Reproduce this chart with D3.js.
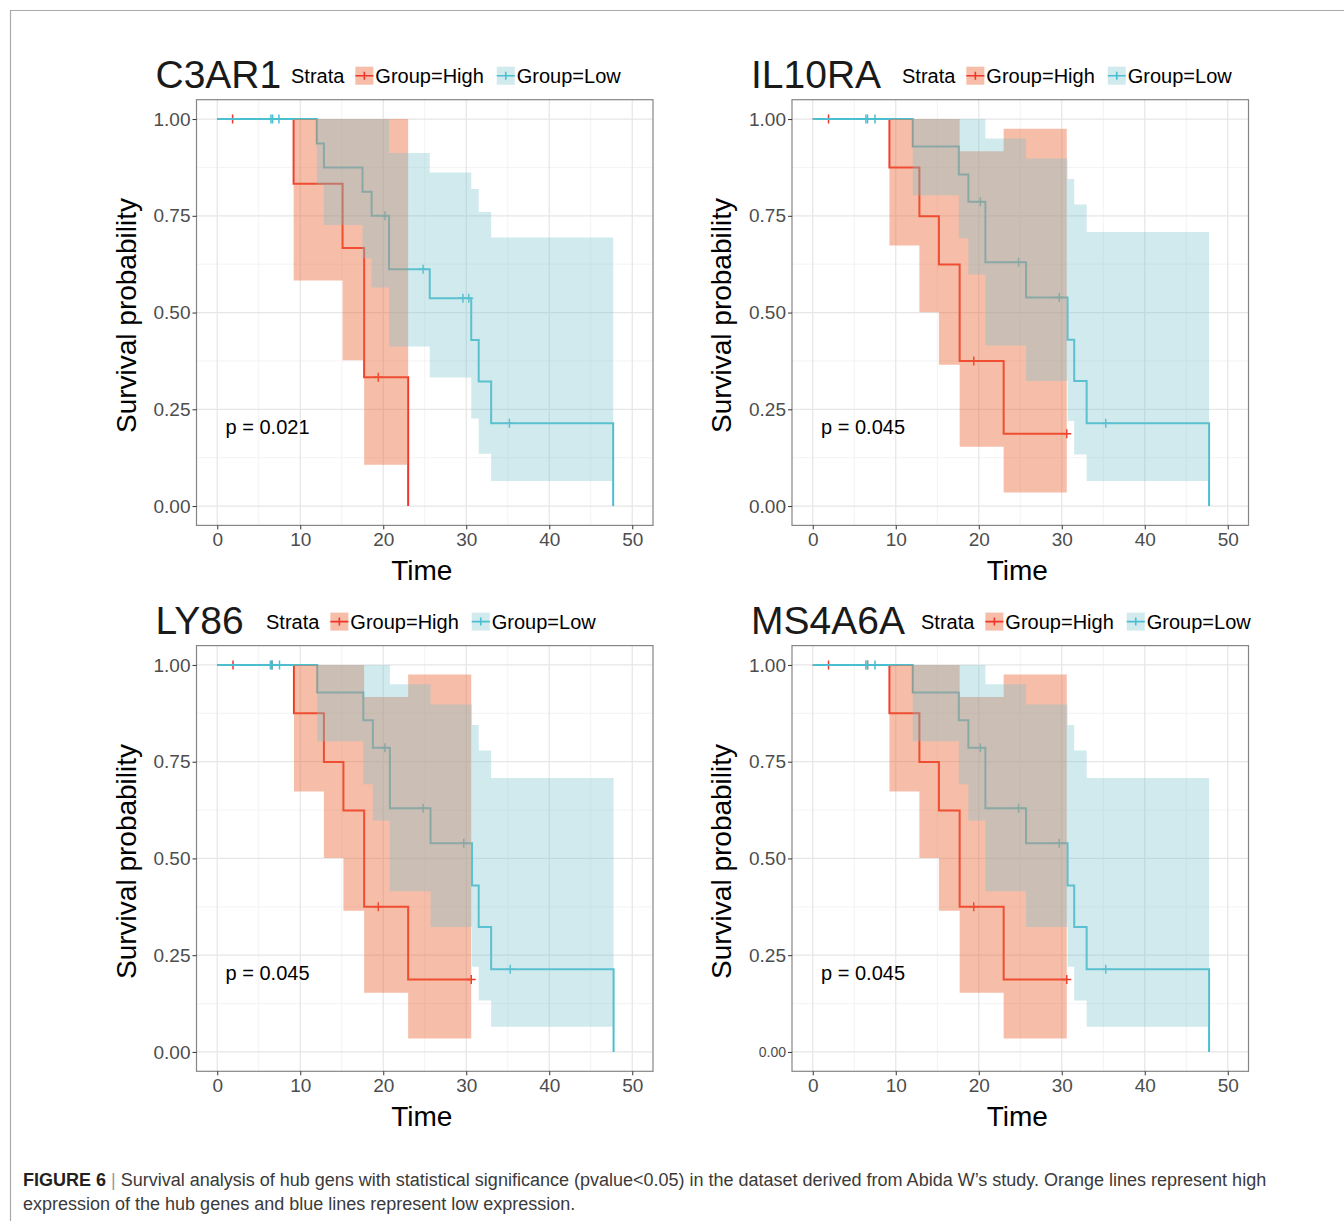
<!DOCTYPE html>
<meta charset="utf-8">
<title>Survival analysis of hub genes</title>
<style>
body { margin: 0; background: #fff; }
svg { display: block; font-family: "Liberation Sans", Arial, Helvetica, sans-serif; }
</style>
<body>
<svg></svg>
<script src="https://d3js.org/d3.v7.min.js"></script>
<script>

var width = 1344,
    height = 1221;

var genes = ["C3AR1", "IL10RA", "LY86", "MS4A6A"],
    pLabels = ["p = 0.021", "p = 0.045", "p = 0.045", "p = 0.045"],
    xTicks = [0, 10, 20, 30, 40, 50],
    yTicks = [0, 0.25, 0.5, 0.75, 1],
    legendLabels = ["Group=High", "Group=Low"];

// C3AR1
var c3HighTime = [0, 9.2, 15.1, 17.7, 23.0],
    c3HighSurv = [1, 0.833, 0.667, 0.333, 0],
    c3HighCens = [1.85, 19.4],
    c3HighCiTime = [9.2, 15.1, 17.7, 23.0],
    c3HighCiLow = [0.583, 0.377, 0.107, 0.107],
    c3HighCiUp = [1, 1, 1, 1];
var c3LowTime = [0, 12.0, 12.85, 17.5, 18.6, 20.7, 25.6, 30.6, 31.5, 33.0, 47.7],
    c3LowSurv = [1, 0.937, 0.875, 0.812, 0.75, 0.612, 0.537, 0.429, 0.322, 0.214, 0],
    c3LowCens = [6.47, 6.67, 7.43, 20.2, 24.8, 29.6, 30.3, 35.2],
    c3LowCiTime = [12.0, 12.85, 17.5, 18.6, 20.7, 25.6, 30.6, 31.5, 33.0, 47.7],
    c3LowCiLow = [0.83, 0.726, 0.64, 0.565, 0.412, 0.332, 0.226, 0.135, 0.065, 0.065],
    c3LowCiUp = [1, 1, 1, 1, 0.912, 0.862, 0.819, 0.76, 0.694, 0.694];

// IL10RA (LY86 and MS4A6A give the same curves)
var ilHighTime = [0, 9.24, 12.85, 15.2, 17.7, 23.0, 30.6],
    ilHighSurv = [1, 0.875, 0.749, 0.624, 0.375, 0.187, 0.187],
    ilHighCens = [1.9, 19.4, 30.6],
    ilHighCiTime = [9.24, 12.85, 15.2, 17.7, 23.0, 30.6],
    ilHighCiLow = [0.673, 0.501, 0.365, 0.153, 0.035, 0.035],
    ilHighCiUp = [1, 1, 1, 0.917, 0.975, 0.975];
var ilLowTime = [0, 12.05, 17.6, 18.75, 20.8, 25.7, 30.7, 31.5, 33.0, 47.75],
    ilLowSurv = [1, 0.929, 0.857, 0.786, 0.63, 0.539, 0.43, 0.323, 0.214, 0],
    ilLowCens = [6.4, 6.6, 7.5, 20.2, 24.8, 29.7, 35.3],
    ilLowCiTime = [12.05, 17.6, 18.75, 20.8, 25.7, 30.7, 31.5, 33.0, 47.75],
    ilLowCiLow = [0.803, 0.692, 0.598, 0.415, 0.323, 0.22, 0.133, 0.065, 0.065],
    ilLowCiUp = [1, 1, 1, 0.95, 0.898, 0.845, 0.779, 0.708, 0.708];

var lyHighCens = [1.9, 6.6, 19.4, 30.6],
    lyLowCens = [6.4, 6.6, 7.5, 20.2, 24.8, 29.7, 35.3];

function group(time, surv, cens, ciTime, ciLow, ciUp) {
    return {time: time, surv: surv, cens: cens, ciTime: ciTime, ciLow: ciLow, ciUp: ciUp};
}

var panels = [
    {high: group(c3HighTime, c3HighSurv, c3HighCens, c3HighCiTime, c3HighCiLow, c3HighCiUp),
     low: group(c3LowTime, c3LowSurv, c3LowCens, c3LowCiTime, c3LowCiLow, c3LowCiUp)},
    {high: group(ilHighTime, ilHighSurv, ilHighCens, ilHighCiTime, ilHighCiLow, ilHighCiUp),
     low: group(ilLowTime, ilLowSurv, ilLowCens, ilLowCiTime, ilLowCiLow, ilLowCiUp)},
    {high: group(ilHighTime, ilHighSurv, lyHighCens, ilHighCiTime, ilHighCiLow, ilHighCiUp),
     low: group(ilLowTime, ilLowSurv, lyLowCens, ilLowCiTime, ilLowCiLow, ilLowCiUp)},
    {high: group(ilHighTime, ilHighSurv, lyHighCens, ilHighCiTime, ilHighCiLow, ilHighCiUp),
     low: group(ilLowTime, ilLowSurv, lyLowCens, ilLowCiTime, ilLowCiLow, ilLowCiUp)}
];

// layout
var pw = 456.5, ph = 425.7,
    pos = [[196.5, 99.7], [792, 99.7], [196.5, 645.6], [792, 645.6]],
    legendX = [291, 902, 266, 921];

var colors = {
    high: {line: "#f2352a", fill: "rgb(235,108,62)", op: 0.45},
    low: {line: "#4bbfd0", fill: "rgb(124,195,206)", op: 0.35}
};

var svg = d3.select("svg").attr("width", width).attr("height", height);
svg.append("rect").attr("width", width).attr("height", height).attr("fill", "#fff");

// page frame
svg.append("path")
    .attr("d", "M10.5," + height + "V10.5H" + width)
    .attr("fill", "none").attr("stroke", "#aaa").attr("stroke-width", 1.2);

var x = d3.scaleLinear().domain([-2.5, 52.5]).range([0, pw]),
    y = d3.scaleLinear().domain([-0.05, 1.05]).range([ph, 0]);

var stepLine = d3.line().curve(d3.curveStepAfter).x(d => x(d[0])).y(d => y(d[1]));
var stepArea = d3.area().curve(d3.curveStepAfter)
    .x(d => x(d[0])).y0(d => y(d[1])).y1(d => y(d[2]));

function survAt(g, t) {
    var i = d3.bisectRight(g.time, t) - 1;
    return g.surv[Math.max(0, i)];
}

function plus(sel, cx, cy, color) {
    sel.append("path")
        .attr("d", "M" + (cx - 4.5) + "," + cy + "H" + (cx + 4.5) + "M" + cx + "," + (cy - 4.5) + "V" + (cy + 4.5))
        .attr("stroke", color).attr("stroke-width", 1.5).attr("fill", "none");
}

panels.forEach(function(p, k) {
    var g = svg.append("g").attr("transform", "translate(" + pos[k][0] + "," + pos[k][1] + ")");

    // grid
    var minorX = d3.range(5, 50, 10), minorY = [0.125, 0.375, 0.625, 0.875];
    g.append("g").selectAll("line").data(minorX).join("line")
        .attr("x1", d => x(d)).attr("x2", d => x(d)).attr("y1", 0).attr("y2", ph)
        .attr("stroke", "#f0f0f0").attr("stroke-width", 0.8);
    g.append("g").selectAll("line").data(minorY).join("line")
        .attr("y1", d => y(d)).attr("y2", d => y(d)).attr("x1", 0).attr("x2", pw)
        .attr("stroke", "#f0f0f0").attr("stroke-width", 0.8);
    g.append("g").selectAll("line").data(xTicks).join("line")
        .attr("x1", d => x(d)).attr("x2", d => x(d)).attr("y1", 0).attr("y2", ph)
        .attr("stroke", "#e6e6e6").attr("stroke-width", 1.2);
    g.append("g").selectAll("line").data(yTicks).join("line")
        .attr("y1", d => y(d)).attr("y2", d => y(d)).attr("x1", 0).attr("x2", pw)
        .attr("stroke", "#e6e6e6").attr("stroke-width", 1.2);

    // curves
    ["high", "low"].forEach(function(key) {
        var s = p[key], c = colors[key];
        g.append("path")
            .datum(s.time.map((t, i) => [t, s.surv[i]]))
            .attr("d", stepLine)
            .attr("fill", "none").attr("stroke", c.line).attr("stroke-width", 2);
        s.cens.forEach(function(t) {
            plus(g, x(t), y(survAt(s, t)), c.line);
        });
    });

    // confidence bands, drawn over the lines
    ["high", "low"].forEach(function(key) {
        var s = p[key], c = colors[key];
        g.append("path")
            .datum(s.ciTime.map((t, i) => [t, s.ciLow[i], s.ciUp[i]]))
            .attr("d", stepArea)
            .attr("fill", c.fill).attr("fill-opacity", c.op);
    });

    // border
    g.append("rect").attr("width", pw).attr("height", ph)
        .attr("fill", "none").attr("stroke", "#858585").attr("stroke-width", 1.2);

    // axes
    var ya = g.append("g").call(d3.axisLeft(y).tickValues(yTicks).tickFormat(d3.format(".2f")).tickSize(4).tickPadding(2));
    var xa = g.append("g").attr("transform", "translate(0," + ph + ")")
        .call(d3.axisBottom(x).tickValues(xTicks).tickSize(4).tickPadding(3));
    [ya, xa].forEach(function(a) {
        a.select(".domain").remove();
        a.selectAll(".tick line").attr("stroke", "#333");
        a.selectAll(".tick text").attr("fill", "#4d4d4d")
            .style("font-size", "19px").style("font-family", "inherit");
    });
    if (k == 3) {
        ya.selectAll(".tick text").filter(d => d == 0).style("font-size", "14px");
    }

    g.append("text")
        .attr("transform", "translate(-61," + (ph / 2 + 3) + ") rotate(-90)")
        .attr("text-anchor", "middle").style("font-size", "28px").attr("fill", "#000")
        .text("Survival probability");
    g.append("text")
        .attr("x", pw / 2 - 3).attr("y", ph + 55)
        .attr("text-anchor", "middle").style("font-size", "28px").attr("fill", "#000")
        .text("Time");

    g.append("text")
        .attr("x", x(1)).attr("y", y(0.186))
        .style("font-size", "20px").attr("fill", "#000")
        .text(pLabels[k]);

    // title and legend
    g.append("text")
        .attr("x", -41).attr("y", -12)
        .style("font-size", "39px").attr("fill", "#1a1a1a")
        .text(genes[k]);

    var lg = g.append("g").attr("transform", "translate(" + (legendX[k] - pos[k][0]) + ",-17)");
    var strata = lg.append("text").style("font-size", "20px").attr("fill", "#000").text("Strata");
    var cx = strata.node().getComputedTextLength() + 11;
    ["high", "low"].forEach(function(key, i) {
        var c = colors[key];
        var item = lg.append("g").attr("transform", "translate(" + cx + ",0)");
        item.append("rect").attr("x", 0).attr("y", -16).attr("width", 18).attr("height", 18)
            .attr("fill", c.fill).attr("fill-opacity", c.op);
        item.append("path").attr("d", "M0,-7H18M9,-11V-3")
            .attr("stroke", c.line).attr("stroke-width", 1.6);
        var t = item.append("text").attr("x", 20).style("font-size", "20px").attr("fill", "#000")
            .text(legendLabels[i]);
        cx += 20 + t.node().getComputedTextLength() + 13;
    });
});

// caption
var cap = svg.append("text").attr("x", 23).attr("y", 1186)
    .style("font-size", "18px").attr("fill", "#3a3a3a");
cap.append("tspan").attr("font-weight", "bold").attr("fill", "#231f20").text("FIGURE 6");
cap.append("tspan").attr("fill", "#999").text(" | ");
cap.append("tspan").text("Survival analysis of hub gens with statistical significance (pvalue<0.05) in the dataset derived from Abida W\u2019s study. Orange lines represent high");
svg.append("text").attr("x", 23).attr("y", 1210)
    .style("font-size", "18px").attr("fill", "#3a3a3a")
    .text("expression of the hub genes and blue lines represent low expression.");

</script>
</body>
